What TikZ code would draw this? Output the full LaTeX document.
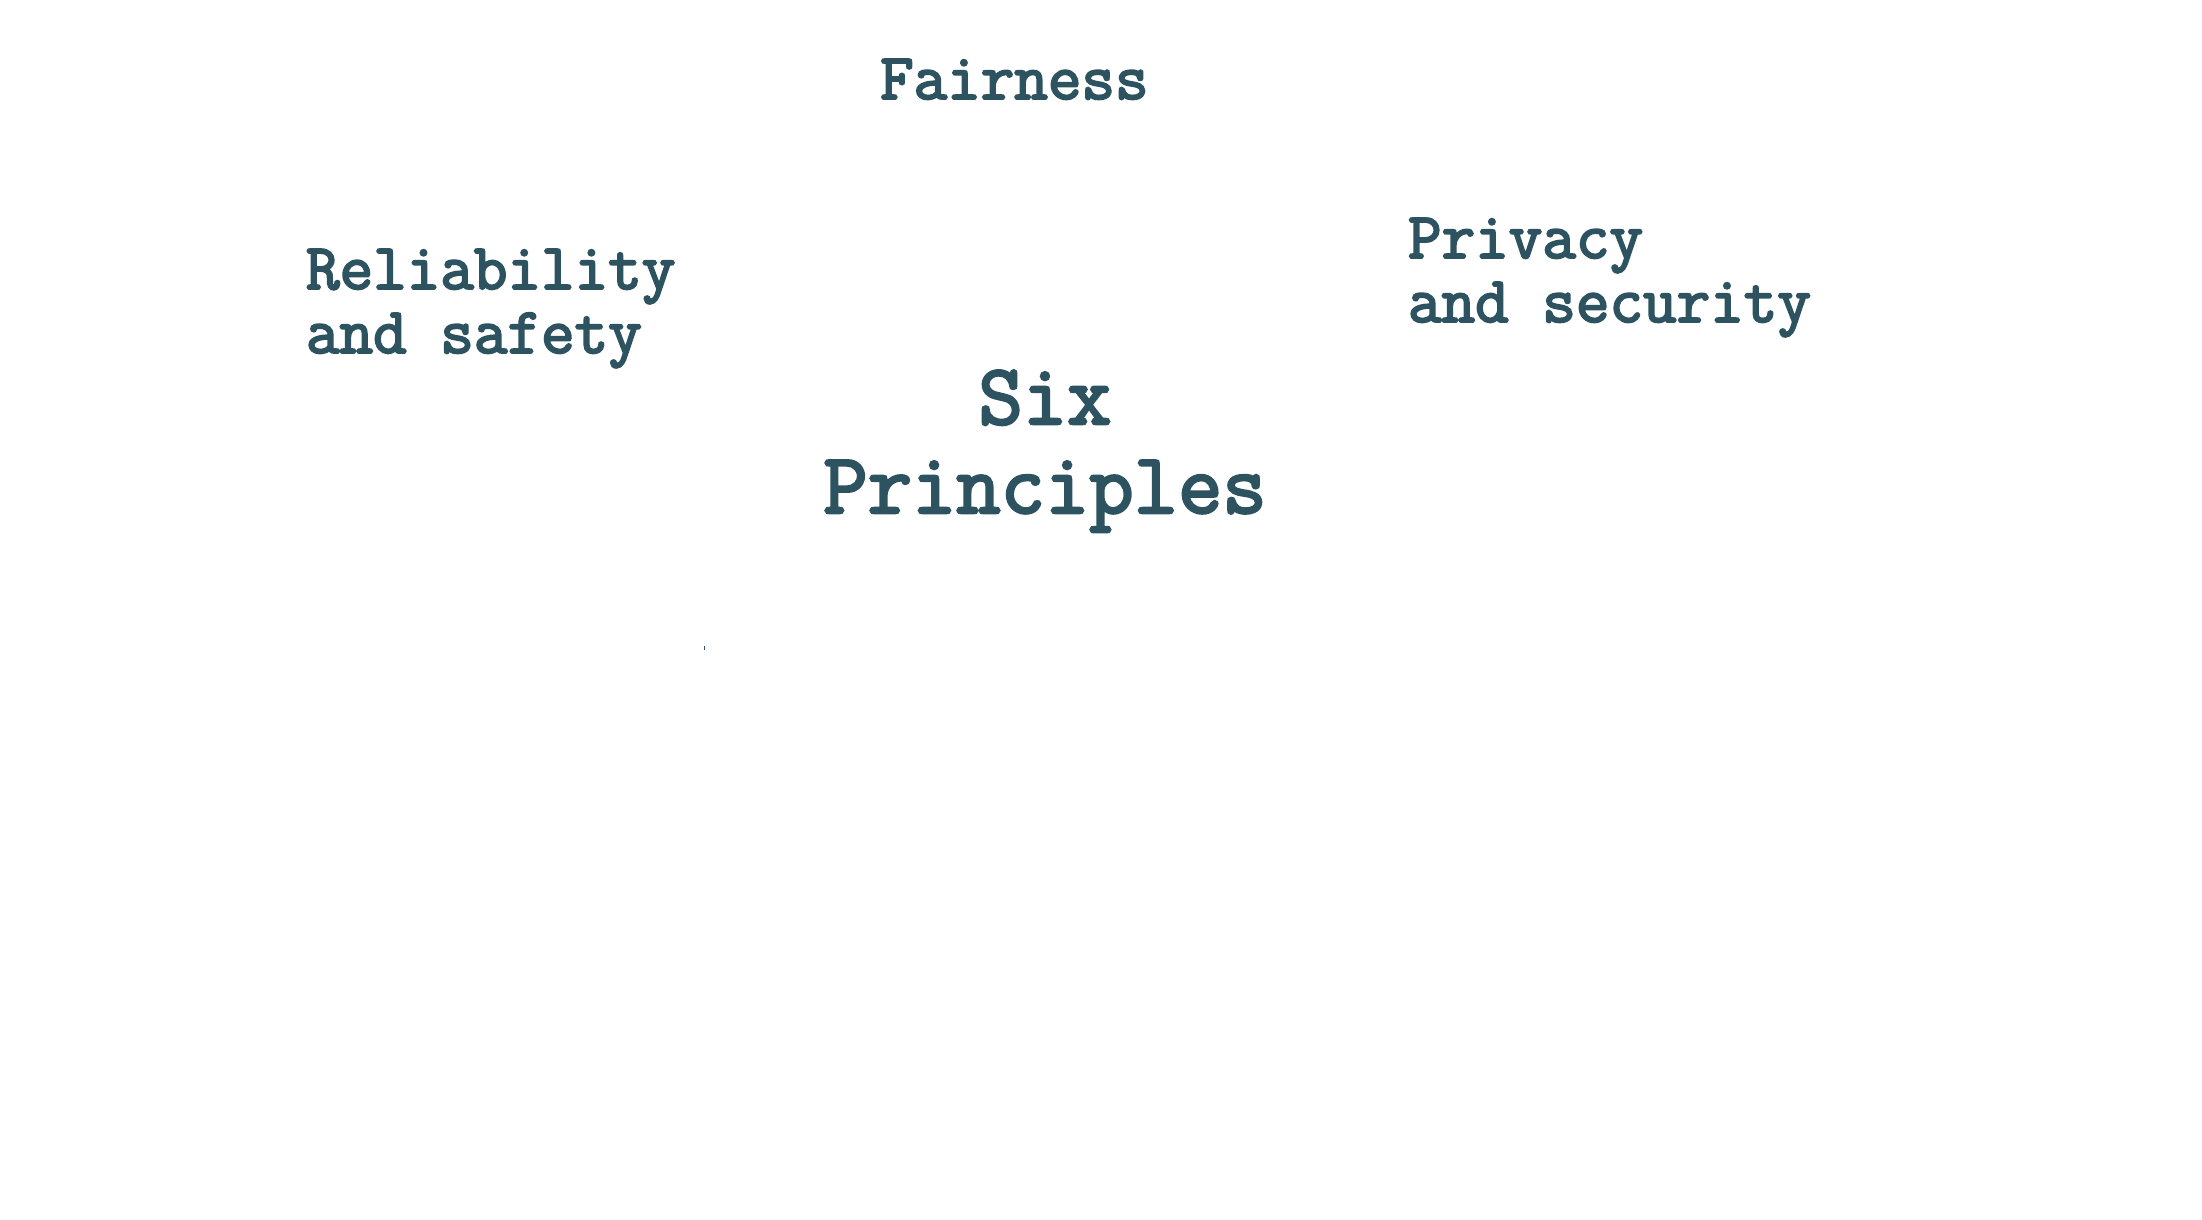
\documentclass[tikz,border=0pt]{standalone}
\usepackage{fontspec}
\newfontfamily\courfont[FakeBold=3]{Latin Modern Mono}
\definecolor{tealtext}{RGB}{46,83,96}
\tikzset{
  lbl/.style={inner sep=0pt, outer sep=0pt, text=tealtext, align=left, anchor=base west,
    font=\courfont\fontsize{65.2}{64}\selectfont},
  title/.style={inner sep=0pt, outer sep=0pt, text=tealtext, align=center, anchor=base,
    font=\courfont\fontsize{86.1}{89}\selectfont}
}
\begin{document}
\begin{tikzpicture}[x=1pt,y=1pt]
\useasboundingbox[fill=white] (0,0) rectangle (2202,-1220);
\node[lbl] (fair) at (880,-99) {Fairness};
\node[lbl] (rel) at (306,-353) {Reliability\\and safety};
\node[lbl] (priv) at (1408,-322) {Privacy\\and security};
\node[title] (six) at (1045,-513) {Six\\Principles};
\fill[tealtext] (703.5,-646) rectangle (705,-650);
\end{tikzpicture}
\end{document}
